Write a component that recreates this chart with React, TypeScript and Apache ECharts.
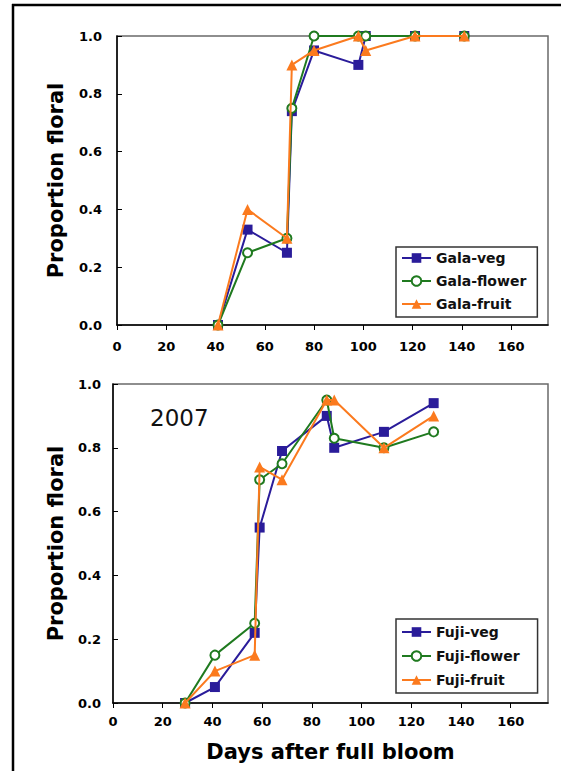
import React, { useEffect, useRef } from "react";
import * as echarts from "echarts";

// ---- data ----
const galaDays = [41, 53, 69, 71, 80, 98, 101, 121, 141];
const galaVeg = [0, 0.33, 0.25, 0.74, 0.95, 0.9, 1.0, 1.0, 1.0];
const galaFlower = [0, 0.25, 0.3, 0.75, 1.0, 1.0, 1.0, 1.0, 1.0];
const galaFruit = [0, 0.4, 0.3, 0.9, 0.95, 1.0, 0.95, 1.0, 1.0];

const fujiDays = [29, 41, 57, 59, 68, 86, 89, 109, 129];
const fujiVeg = [0, 0.05, 0.22, 0.55, 0.79, 0.9, 0.8, 0.85, 0.94];
const fujiFlower = [0, 0.15, 0.25, 0.7, 0.75, 0.95, 0.83, 0.8, 0.85];
const fujiFruit = [0, 0.1, 0.15, 0.74, 0.7, 0.95, 0.95, 0.8, 0.9];

const dayTicks = [0, 20, 40, 60, 80, 100, 120, 140, 160];
const proportionTicks = [0, 0.2, 0.4, 0.6, 0.8, 1.0];

const galaNames = ["Gala-veg", "Gala-flower", "Gala-fruit"];
const fujiNames = ["Fuji-veg", "Fuji-flower", "Fuji-fruit"];
const yearLabel = "2007";
const yTitle = "Proportion floral";
const xTitle = "Days after full bloom";

const BLUE = "#2a1c9a";
const GREEN = "#1f7a1f";
const ORANGE = "#fb7a1e";
const FONT = "DejaVu Sans";

export default function App() {
  const ref = useRef<HTMLDivElement>(null);

  useEffect(() => {
    if (!ref.current) return;
    const chart = echarts.init(ref.current, undefined, { renderer: "svg" });

    const mk = (
      name: string,
      days: number[],
      vals: number[],
      color: string,
      symbol: string,
      size: number,
      idx: number,
      z: number
    ) => ({
      type: "line",
      name,
      xAxisIndex: idx,
      yAxisIndex: idx,
      data: days.map((d, i) => [d, vals[i]]),
      symbol,
      symbolSize: size,
      showSymbol: true,
      lineStyle: { color, width: 2 },
      itemStyle: { color, borderColor: color, borderWidth: symbol === "emptyCircle" ? 1.3 : 0 },
      emphasis: { disabled: true },
      z,
    });

    const xAxisBase = (idx: number, margin: number, withName: boolean) => ({
      type: "value",
      gridIndex: idx,
      min: 0,
      max: 175,
      interval: 20,
      splitLine: { show: false },
      axisLine: { show: true, onZero: false, lineStyle: { color: "#000", width: 1.5 } },
      axisTick: {
        show: true,
        inside: false,
        length: 5,
        customValues: dayTicks,
        lineStyle: { color: "#000", width: 1 },
      },
      axisLabel: {
        customValues: dayTicks,
        margin,
        fontFamily: FONT,
        fontWeight: "bold",
        fontSize: 13,
        color: "#000",
      },
      name: withName ? xTitle : "",
      nameLocation: "middle",
      nameGap: 38,
      nameTextStyle: { fontFamily: FONT, fontWeight: "bold", fontSize: 21, color: "#000" },
    });

    const yAxisBase = (idx: number, margin: number, gap: number) => ({
      type: "value",
      gridIndex: idx,
      min: 0,
      max: 1,
      interval: 0.2,
      splitLine: { show: false },
      axisLine: { show: true, lineStyle: { color: "#000", width: 1.5 } },
      axisTick: {
        show: true,
        inside: true,
        length: 5,
        customValues: proportionTicks,
        lineStyle: { color: "#000", width: 1 },
      },
      axisLabel: {
        customValues: proportionTicks,
        margin,
        formatter: (v: number) => v.toFixed(1),
        fontFamily: FONT,
        fontWeight: "bold",
        fontSize: 13,
        color: "#000",
      },
      name: yTitle,
      nameLocation: "middle",
      nameGap: gap,
      nameTextStyle: { fontFamily: FONT, fontWeight: "bold", fontSize: 21, color: "#000" },
    });

    const legendBase = (names: string[], top: number, gap: number, padding: number[]) => ({
      data: names,
      orient: "vertical",
      left: 396,
      top,
      itemWidth: 29,
      itemHeight: 12,
      itemGap: gap,
      padding,
      borderColor: "#333",
      borderWidth: 1.5,
      backgroundColor: "#fff",
      selectedMode: false,
      textStyle: { fontFamily: FONT, fontWeight: "bold", fontSize: 14, color: "#111", lineHeight: 16 },
    });

    chart.setOption({
      animation: false,
      backgroundColor: "#fff",
      grid: [
        { left: 117, top: 36, width: 431, height: 289, show: true, borderColor: "#6a6a6a", borderWidth: 1.5, backgroundColor: "#fff" },
        { left: 113, top: 384, width: 435, height: 319, show: true, borderColor: "#6a6a6a", borderWidth: 1.5, backgroundColor: "#fff" },
      ],
      xAxis: [xAxisBase(0, 15, false), xAxisBase(1, 12, true)],
      yAxis: [yAxisBase(0, 15, 51), yAxisBase(1, 12, 47)],
      legend: [
        legendBase(galaNames, 247, 7, [3, 11, 5, 5]),
        legendBase(fujiNames, 619, 8, [5, 18, 5, 5]),
      ],
      series: [
        mk(galaNames[0], galaDays, galaVeg, BLUE, "rect", 10, 0, 2),
        mk(galaNames[1], galaDays, galaFlower, GREEN, "emptyCircle", 9, 0, 3),
        mk(galaNames[2], galaDays, galaFruit, ORANGE, "triangle", 11, 0, 4),
        mk(fujiNames[0], fujiDays, fujiVeg, BLUE, "rect", 10, 1, 2),
        mk(fujiNames[1], fujiDays, fujiFlower, GREEN, "emptyCircle", 9, 1, 3),
        mk(fujiNames[2], fujiDays, fujiFruit, ORANGE, "triangle", 11, 1, 4),
      ],
      graphic: [
        { type: "line", shape: { x1: 12, y1: 5, x2: 561, y2: 5 }, style: { stroke: "#000", lineWidth: 2.5 } },
        { type: "line", shape: { x1: 13, y1: 4, x2: 13, y2: 771 }, style: { stroke: "#000", lineWidth: 2.5 } },
        {
          type: "text",
          x: 150,
          y: 418,
          style: { text: yearLabel, font: `23px "${FONT}"`, fill: "#111", verticalAlign: "middle", align: "left" },
        },
      ],
    });

    return () => chart.dispose();
  }, []);

  return (
    <div
      ref={ref}
      style={{ position: "fixed", left: 0, top: 0, width: 561, height: 771, background: "#fff" }}
    />
  );
}
